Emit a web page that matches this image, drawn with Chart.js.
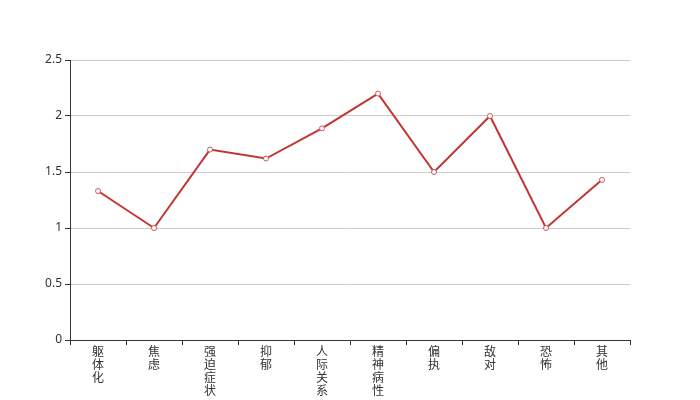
<!DOCTYPE html>
<html>
<head>
<meta charset="utf-8">
<script src="https://cdn.jsdelivr.net/npm/chart.js@4/dist/chart.umd.min.js"></script>
<style>
  html, body { margin: 0; padding: 0; background: #fff; }
  #wrap { width: 700px; height: 400px; }
</style>
</head>
<body>
<div id="wrap"><canvas id="scoreChart" width="700" height="400"></canvas></div>
<script>
const categories = ['躯体化', '焦虑', '强迫症状', '抑郁', '人际关系', '精神病性', '偏执', '敌对', '恐怖', '其他'];
const scores = [1.33, 1.0, 1.7, 1.62, 1.89, 2.2, 1.5, 2.0, 1.0, 1.43];

const ctx = document.getElementById('scoreChart').getContext('2d');

const scoreChart = new Chart(ctx, {
    type: 'line',
    data: {
        labels: categories,
        datasets: [{
            data: scores,
            borderColor: '#c23531',
            borderWidth: 2,
            tension: 0,
            pointRadius: 2.5,
            pointBorderWidth: 1,
            pointBackgroundColor: '#fff',
            pointBorderColor: '#d0595a',
            pointHoverRadius: 3
        }]
    },
    options: {
        responsive: false,
        animation: false,
        layout: {
            padding: { top: 60, right: 70, left: 0, bottom: 0 }
        },
        plugins: {
            legend: { display: false },
            tooltip: { enabled: false }
        },
        scales: {
            x: {
                offset: true,
                afterFit: (scale) => { scale.height = 60; },
                grid: {
                    offset: true,
                    drawOnChartArea: false,
                    tickLength: 5,
                    tickColor: '#333'
                },
                border: { color: '#333', width: 1 },
                ticks: {
                    autoSkip: false,
                    maxRotation: 0,
                    padding: 0,
                    color: '#333',
                    font: { size: 12, family: '"Noto Sans CJK SC", sans-serif', lineHeight: 1.08 },
                    callback: function (value) {
                        return this.getLabelForValue(value).split('');
                    }
                }
            },
            y: {
                min: 0,
                max: 2.5,
                afterFit: (scale) => { scale.width = 70; },
                grid: {
                    color: '#ccc',
                    tickLength: 5,
                    tickColor: '#333'
                },
                border: { color: '#333', width: 1 },
                ticks: {
                    stepSize: 0.5,
                    padding: 3,
                    color: '#333',
                    font: { size: 12, family: '"Noto Sans", sans-serif' },
                    callback: (value) => String(value)
                }
            }
        }
    }
});
</script>
</body>
</html>
